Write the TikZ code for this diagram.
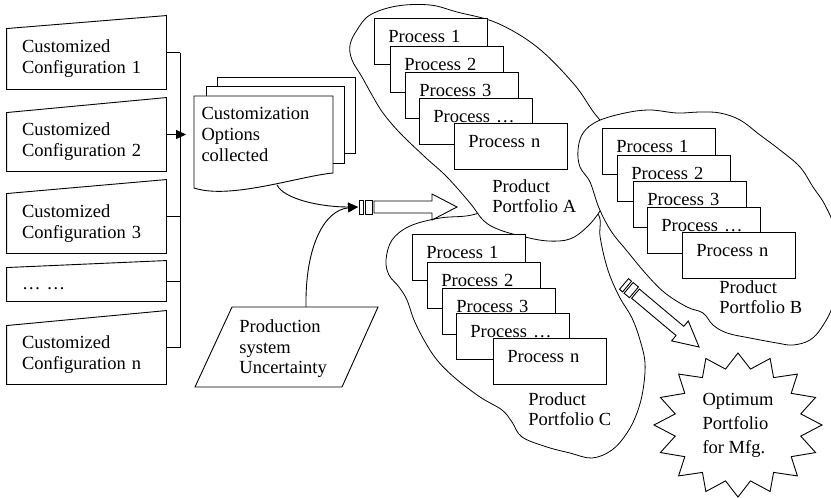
\documentclass[tikz,border=0pt]{standalone}
\usepackage{fontspec}
\setmainfont{Liberation Serif}
\usetikzlibrary{positioning,calc,arrows.meta}

\begin{document}
\begin{tikzpicture}[x=1pt,y=-1pt,
	font=\fontsize{18.5}{21}\selectfont,
	line width=0.9pt,
	cfgbox/.style={minimum width=159pt, text width=129pt, inner xsep=15pt, inner ysep=0pt, align=left},
	docbox/.style={minimum width=139pt, minimum height=76pt, text width=124pt, inner xsep=15pt, inner ysep=0pt, align=left},
	procbox/.style={draw, fill=white, anchor=north west, minimum width=113pt, minimum height=46pt, text width=85pt, inner xsep=14pt, inner ysep=0pt, text height=12pt, text depth=10pt},
	labeltext/.style={anchor=north west, inner sep=0pt, align=left, font=\fontsize{18.5}{20}\selectfont},
	blob/.style={draw, fill=white, line width=0.8pt},
	joinarrow/.style={-{Triangle[length=10pt,width=9pt]}},
	pics/stripedarrow/.style={code={
		\draw (0,-7) rectangle (4,7);
		\draw (6,-7) rectangle (13,7);
		\draw (15,-6) -- (73,-6) -- (73,-13) -- (98,0) -- (73,13) -- (73,6) -- (15,6) -- cycle;
	}},
	]
	\useasboundingbox (0,0) rectangle (831,498);

	%Portfolio outlines
	\draw[blob] plot[smooth cycle, tension=0.6] coordinates {(410,226) (440,218) (472,215) (510,203) (565,203) (597,213) (600,236) (604,256) (610,276) (620,298) (632,318) (640,340) (645,363) (643,390) (637,413) (627,433) (612,450) (592,458) (570,453) (547,447) (522,437) (512,422) (502,410) (480,397) (455,378) (437,360) (424,340) (414,320) (407,300) (399,287) (389,275) (386,260) (392,240)};
	\draw[blob] plot[smooth cycle, tension=0.6] coordinates {(370,15) (397,6) (430,5) (457,12) (497,23) (537,47) (573,83) (592,110) (612,140) (614,185) (600,211) (587,227) (570,239) (548,241) (525,237) (500,230) (484,221) (470,203) (447,177) (425,157) (400,133) (383,113) (372,95) (362,77) (352,60) (350,45) (357,30)};
	\draw[blob] plot[smooth cycle, tension=0.6] coordinates {(598,121) (625,113) (650,110) (677,113) (700,112) (720,113) (740,120) (760,135) (780,150) (800,167) (813,187) (825,205) (835,230) (840,270) (833,305) (822,327) (810,340) (793,345) (777,343) (750,338) (727,333) (713,325) (703,313) (687,307) (665,293) (647,275) (627,251) (611,231) (599,208) (590,182) (580,167) (578,150) (583,133)};

	%Portfolio A
	\node[procbox] (pa1) at (374,18)  {Process 1};
	\node[procbox] (pa2) at (390,46)  {Process 2};
	\node[procbox] (pa3) at (405,72)  {Process 3};
	\node[procbox] (pa4) at (419,98)  {Process …};
	\node[procbox] (pan) at (454,123) {Process n};
	\node[labeltext] (la) at (492,179.4) {Product\\Portfolio A};

	%Portfolio B
	\node[procbox] (pb1) at (602,128) {Process 1};
	\node[procbox] (pb2) at (617,155) {Process 2};
	\node[procbox] (pb3) at (633,181) {Process 3};
	\node[procbox] (pb4) at (647,207) {Process …};
	\node[procbox] (pbn) at (682,232) {Process n};
	\node[labeltext] (lb) at (719,280.4) {Product\\Portfolio B};

	%Portfolio C
	\node[procbox] (pc1) at (412,234) {Process 1};
	\node[procbox] (pc2) at (427,262) {Process 2};
	\node[procbox] (pc3) at (442,288) {Process 3};
	\node[procbox] (pc4) at (456,313) {Process …};
	\node[procbox] (pcn) at (493,338) {Process n};
	\node[labeltext] (lc) at (528,392.4) {Product\\Portfolio C};

	%Configurations
	\node[cfgbox, minimum height=60pt] (c1) at (86.5,59)    {Customized\\Configuration 1};
	\node[cfgbox, minimum height=58pt] (c2) at (86.5,142)   {Customized\\Configuration 2};
	\node[cfgbox, minimum height=59pt] (c3) at (86.5,223.5) {Customized\\Configuration 3};
	\node[cfgbox, minimum height=33pt, text height=12pt, text depth=2pt] (c4) at (86.5,284.5) {… …};
	\node[cfgbox, minimum height=58pt] (c5) at (86.5,355)   {Customized\\Configuration n};
	\foreach \c/\s/\t in {c1/13/t1, c2/15/t2, c3/14/t3, c4/7/t4, c5/15/t5}{
		\draw (\c.south west) -- (\c.north west) -- ($(\c.north east)+(0,-\s)$) -- (\c.south east) -- cycle;
		\coordinate (\t) at ($(\c.east)+(0,-\s/2)$);
	}

	%Collected options
	\node[docbox] (opts) at (263.5,134) {Customization\\Options\\collected};
	\draw (217,86) -- (217,77) -- (355,77) -- (355,153) -- (344,153);
	\draw (206,96) -- (206,86) -- (344,86) -- (344,163) -- (333,163);
	\draw (194,188) -- (194,96) -- (333,96) -- (333,173) .. controls (300,176) and (230,200) .. (194,188) -- cycle;

	%Uncertainty
	\draw (232,307) -- (378,307) -- (342,387) -- (195,387) -- cycle;
	\node[labeltext, font=\fontsize{18.5}{20.5}\selectfont] (prod) at (239,319.4) {Production\\system\\Uncertainty};

	%Optimum
	\draw (738,497) \foreach \k in {1,...,31}{ -- ({738+(84-20*mod(\k,2))*cos(90+\k*11.25)}, {425+(72-15*mod(\k,2))*sin(90+\k*11.25)}) } -- cycle;
	\node[align=left, font=\fontsize{18.5}{24}\selectfont] (optimum) at (738,425) {Optimum\\Portfolio\\for Mfg.};

	%Lines
	\coordinate (bus) at (180,0);
	\foreach \t in {t1,t2,t3,t4,t5} \draw (\t) -- (\t -| bus);
	\draw (t1 -| bus) -- (t5 -| bus);
	\draw[joinarrow] (t2 -| bus) -- (t2 -| opts.west);

	\coordinate (merge) at (358,207);
	\coordinate (optsout) at (277,185);
	\coordinate (produp) at (306,307);
	\draw[joinarrow] (optsout) .. controls (284,199) and (320,207) .. (merge);
	\draw[joinarrow] (produp) .. controls (305,245) and (325,210) .. (merge);

	\pic at (359,207) {stripedarrow};
	\pic[rotate=-40] at (624,284) {stripedarrow};
\end{tikzpicture}
\end{document}
